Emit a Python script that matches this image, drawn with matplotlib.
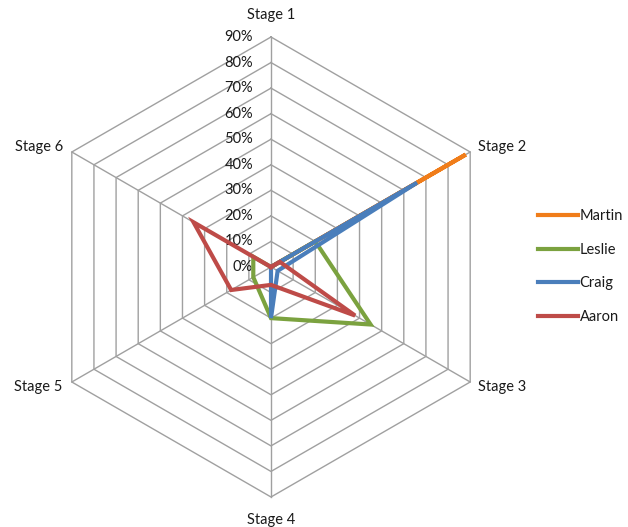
import numpy as np
import matplotlib
matplotlib.use("Agg")
import matplotlib.pyplot as plt

# ================= DATA =================
stages = ["Stage 1", "Stage 2", "Stage 3", "Stage 4", "Stage 5", "Stage 6"]
martin = [0.00, 0.88, 0.00, 0.00, 0.00, 0.00]
leslie = [0.00, 0.20, 0.45, 0.20, 0.08, 0.08]
craig = [0.00, 0.66, 0.03, 0.20, 0.00, 0.00]
aaron = [0.00, 0.04, 0.38, 0.07, 0.18, 0.35]
levels = [0.0, 0.1, 0.2, 0.3, 0.4, 0.5, 0.6, 0.7, 0.8, 0.9]
level_labels = ["0%", "10%", "20%", "30%", "40%", "50%", "60%", "70%", "80%", "90%"]

series = [("Martin", martin, "#F07D1A"),
          ("Leslie", leslie, "#7BA23F"),
          ("Craig", craig, "#4A7EBB"),
          ("Aaron", aaron, "#BE4B48")]

plt.rcParams['font.family'] = ['Lato', 'DejaVu Sans']

# ================= PLOT SETUP =================
W, H = 628, 527
fig = plt.figure(figsize=(W / 100, H / 100), dpi=100)
cx, cy, R = 271, 267, 230
ax = fig.add_axes([(cx - R) / W, (H - cy - R) / H, 2 * R / W, 2 * R / H],
                  projection="polar")
ax.set_theta_zero_location("N")
ax.set_theta_direction(-1)
ax.set_ylim(0, 0.9)
ax.grid(False)
ax.spines["polar"].set_visible(False)
ax.set_xticks([])
ax.set_yticks([])
ax.patch.set_alpha(0)

theta = np.deg2rad(np.arange(len(stages)) * 60.0)
theta_closed = np.append(theta, theta[0])

# hexagon grid rings
grid_col = "#A0A0A0"
for lv in levels[1:]:
    ax.plot(theta_closed, [lv] * len(theta_closed), color=grid_col, lw=1.0,
            zorder=1, clip_on=False)
# spokes
for t in theta:
    ax.plot([t, t], [0, levels[-1]], color=grid_col, lw=1.0, zorder=1,
            clip_on=False)

txt_col = "#1A1A1A"

# radial labels next to stage 1 axis
for lv, lab in zip(levels, level_labels):
    ax.annotate(lab, xy=(0, lv), xytext=(-18, 0), textcoords="offset pixels",
                ha="right", va="center", fontsize=10.5, color=txt_col)

# stage labels
label_pos = [((0, 15), "center", "bottom"),
             ((8, 5), "left", "center"),
             ((8, -5), "left", "center"),
             ((0, -16), "center", "top"),
             ((-9, -5), "right", "center"),
             ((-9, 5), "right", "center")]
for t, name, (off, ha, va) in zip(theta, stages, label_pos):
    ax.annotate(name, xy=(t, levels[-1]), xytext=off, textcoords="offset pixels",
                ha=ha, va=va, fontsize=10.5, color=txt_col)

# data series
for name, vals, col in series:
    v = list(vals) + [vals[0]]
    ax.plot(theta_closed, v, color=col, lw=3.0, label=name, zorder=3,
            solid_joinstyle="miter", clip_on=False)

leg = fig.legend(loc="center left", bbox_to_anchor=(538 / W, (H - 266.5) / H),
                 frameon=False, fontsize=10.5, handlelength=2.75,
                 handletextpad=0.1, labelspacing=1.35, borderpad=0,
                 borderaxespad=0)
for t in leg.get_texts():
    t.set_color(txt_col)

fig.savefig("out.png", dpi=100)
